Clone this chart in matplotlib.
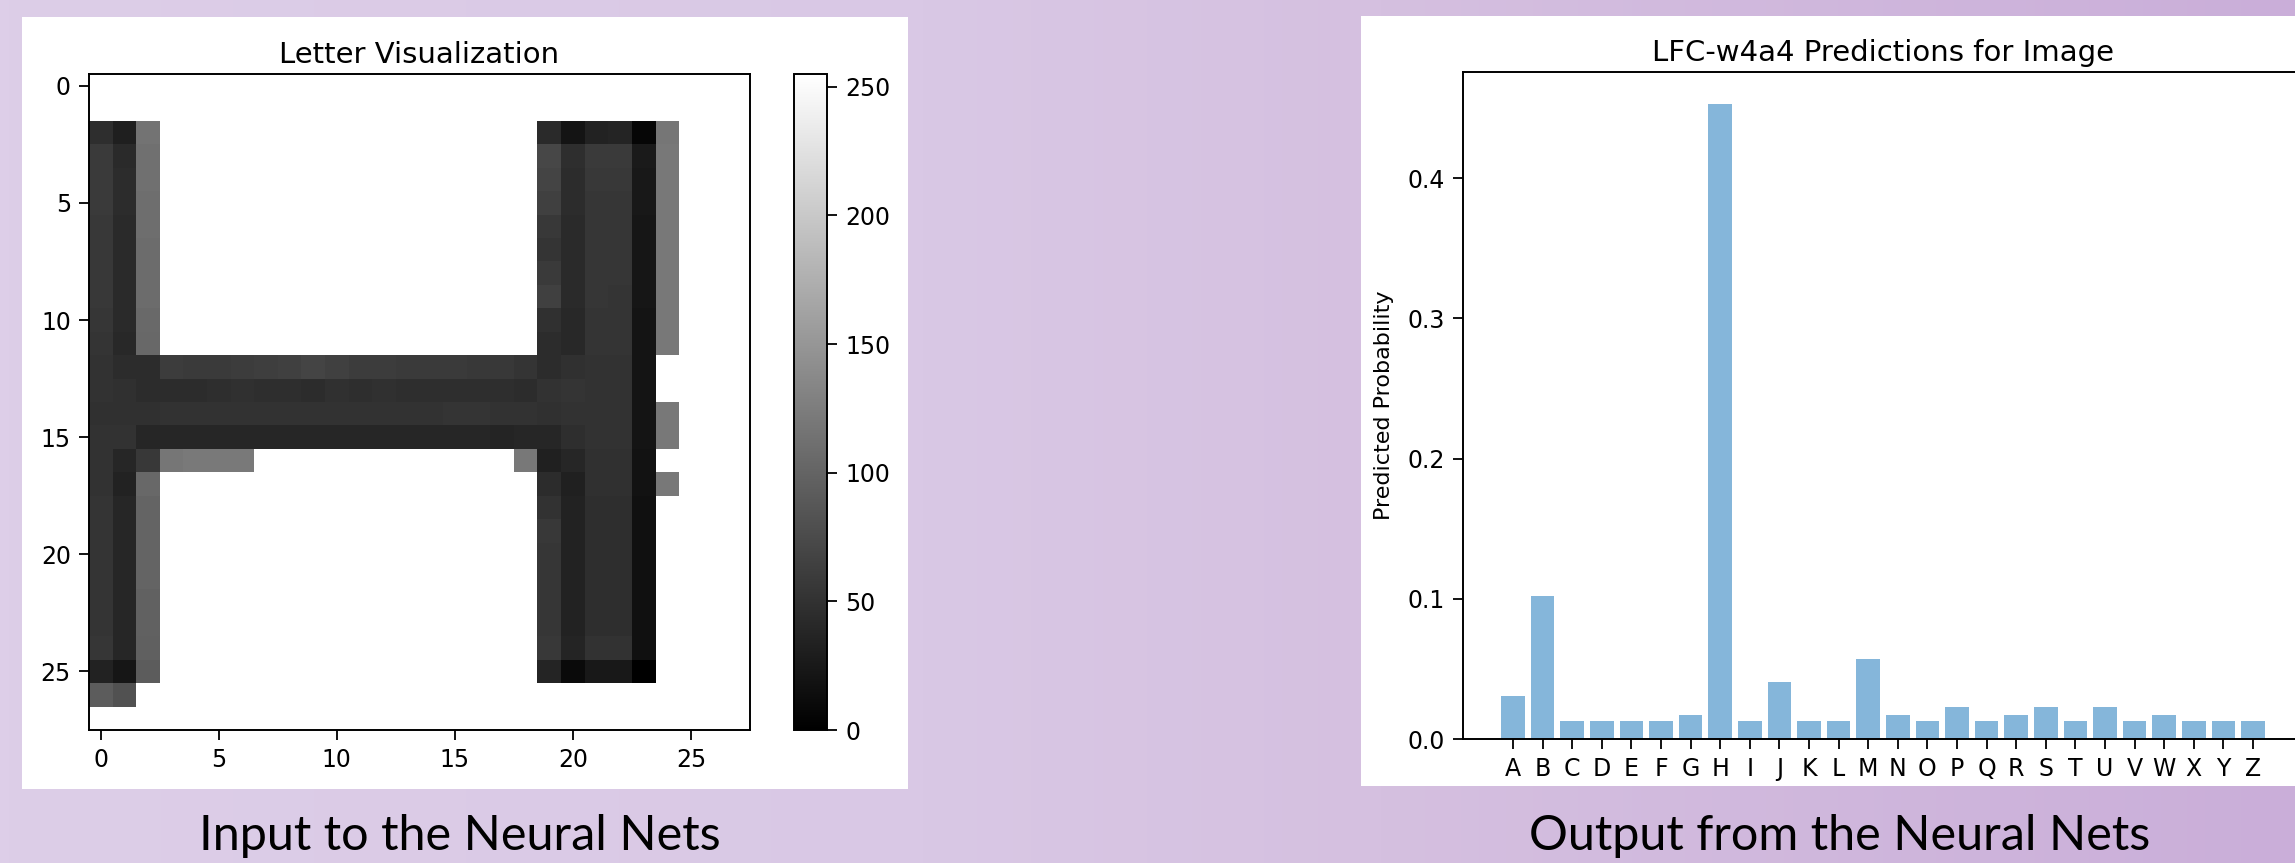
import numpy as np
import matplotlib
matplotlib.use('Agg')
import matplotlib.pyplot as plt
from matplotlib.colors import LinearSegmentedColormap
from matplotlib.patches import Rectangle

W, H = 2295, 863

# 28x28 input letter (grey levels 0..255)
B = 255
letter_img = [
    [B] * 28,
    [B] * 28,
    [46, 31, 115] + [B] * 16 + [42, 20, 34, 37, 6, 118] + [B] * 3,
    [58, 42, 112] + [B] * 16 + [71, 46, 58, 58, 26, 120] + [B] * 3,
    [58, 44, 112] + [B] * 16 + [68, 44, 56, 56, 24, 120] + [B] * 3,
    [58, 44, 110] + [B] * 16 + [64, 44, 54, 54, 24, 120] + [B] * 3,
    [56, 42, 110] + [B] * 16 + [56, 42, 54, 54, 22, 120] + [B] * 3,
    [56, 42, 108] + [B] * 16 + [52, 42, 54, 54, 22, 120] + [B] * 3,
    [56, 42, 108] + [B] * 16 + [58, 42, 54, 54, 22, 120] + [B] * 3,
    [56, 42, 108] + [B] * 16 + [64, 42, 54, 52, 22, 120] + [B] * 3,
    [54, 42, 106] + [B] * 16 + [48, 40, 52, 52, 20, 120] + [B] * 3,
    [52, 40, 104] + [B] * 16 + [44, 40, 52, 52, 20, 120] + [B] * 3,
    [50, 44, 44, 60, 58, 58, 60, 62, 64, 68, 64, 60, 60, 58, 58, 58, 56, 56, 52,
     44, 48, 50, 50, 20, B] + [B] * 3,
    [50, 48, 44, 44, 44, 46, 48, 46, 46, 44, 48, 46, 48, 46, 46, 46, 46, 46, 44,
     50, 52, 50, 50, 20, B] + [B] * 3,
    [48, 48, 48, 50, 50, 50, 50, 50, 50, 50, 50, 50, 50, 50, 50, 52, 52, 50, 50,
     48, 50, 50, 50, 20, 120] + [B] * 3,
    [50, 50, 38, 38, 38, 38, 38, 38, 38, 38, 38, 38, 38, 38, 38, 38, 38, 36, 38,
     38, 46, 50, 50, 20, 120] + [B] * 3,
    [50, 38, 56, 118, 122, 122, 122] + [B] * 11 + [120] + [32, 38, 48, 48, 18, B] + [B] * 3,
    [50, 34, 104] + [B] * 16 + [44, 32, 48, 48, 18, 120] + [B] * 3,
    [52, 38, 100] + [B] * 16 + [50, 34, 46, 46, 16, B] + [B] * 3,
    [52, 38, 100] + [B] * 16 + [56, 34, 46, 46, 16, B] + [B] * 3,
    [52, 38, 100] + [B] * 16 + [54, 34, 46, 46, 16, B] + [B] * 3,
    [52, 38, 100] + [B] * 16 + [54, 34, 46, 46, 16, B] + [B] * 3,
    [52, 38, 98] + [B] * 16 + [54, 34, 46, 46, 16, B] + [B] * 3,
    [52, 38, 98] + [B] * 16 + [54, 34, 46, 46, 16, B] + [B] * 3,
    [54, 38, 96] + [B] * 16 + [56, 36, 50, 50, 16, B] + [B] * 3,
    [34, 22, 92] + [B] * 16 + [36, 10, 24, 24, 0, B] + [B] * 3,
    [92, 82] + [B] * 26,
    [B] * 28,
]

letters = list('ABCDEFGHIJKLMNOPQRSTUVWXYZ')
probs = [0.031, 0.102, 0.013, 0.013, 0.013, 0.013, 0.017, 0.453, 0.013,
         0.041, 0.013, 0.013, 0.057, 0.017, 0.013, 0.023, 0.013, 0.017,
         0.023, 0.013, 0.023, 0.013, 0.017, 0.013, 0.013, 0.013]

img_ticks = [0, 5, 10, 15, 20, 25]
cbar_ticks = [0, 50, 100, 150, 200, 250]

bg_cmap = LinearSegmentedColormap.from_list(
    'slide', [(0, '#ddcee8'), (0.4, '#d9c8e5'), (0.6, '#d5c0e0'), (1, '#caaed9')])
bar_color = '#85b6da'


def box(x0, y0, x1, y1):
    # pixel box (top-left origin) -> figure fraction
    return [x0 / W, 1 - y1 / H, (x1 - x0) / W, (y1 - y0) / H]


def style(ax):
    for sp in ax.spines.values():
        sp.set_linewidth(1.4)
    ax.tick_params(labelsize=17, length=7, width=1.3, pad=6)


fig = plt.figure(figsize=(W / 100, H / 100), dpi=100)

bg = fig.add_axes([0, 0, 1, 1])
bg.imshow(np.linspace(0, 1, 256)[None, :], aspect='auto', cmap=bg_cmap,
          extent=[0, 1, 0, 1])
bg.set_xlim(0, 1)
bg.set_ylim(0, 1)
bg.axis('off')
for x0, y0, x1, y1 in [(22, 17, 908, 789), (1361, 16, 2320, 786)]:
    bg.add_patch(Rectangle((x0 / W, 1 - y1 / H), (x1 - x0) / W, (y1 - y0) / H,
                           transform=bg.transAxes, facecolor='white', lw=0))

# left: input image
ax1 = fig.add_axes(box(89, 74, 750, 730))
im = ax1.imshow(np.array(letter_img), cmap='gray', vmin=0, vmax=255,
                interpolation='nearest', aspect='auto')
ax1.set_xticks(img_ticks)
ax1.set_yticks(img_ticks)
ax1.set_title('Letter Visualization', fontsize=21, pad=8)
style(ax1)

cax = fig.add_axes(box(794, 74, 827, 730))
cb = fig.colorbar(im, cax=cax, ticks=cbar_ticks)
cb.outline.set_linewidth(1.4)
cax.tick_params(labelsize=17, length=7, width=1.3, pad=6)

# right: predictions
ax2 = fig.add_axes(box(1463, 72, 2303, 739))
ax2.bar(letters, probs, color=bar_color, width=0.8)
ax2.set_title('LFC-w4a4 Predictions for Image', fontsize=21, pad=8)
ax2.set_ylabel('Predicted Probability', fontsize=16, labelpad=10)
style(ax2)

fig.text(460 / W, 1 - 850 / H, 'Input to the Neural Nets', family='Lato',
         fontsize=35, ha='center', va='baseline', color='black')
fig.text(1840 / W, 1 - 850 / H, 'Output from the Neural Nets', family='Lato',
         fontsize=35, ha='center', va='baseline', color='black')

fig.savefig('out.png', dpi=100)
